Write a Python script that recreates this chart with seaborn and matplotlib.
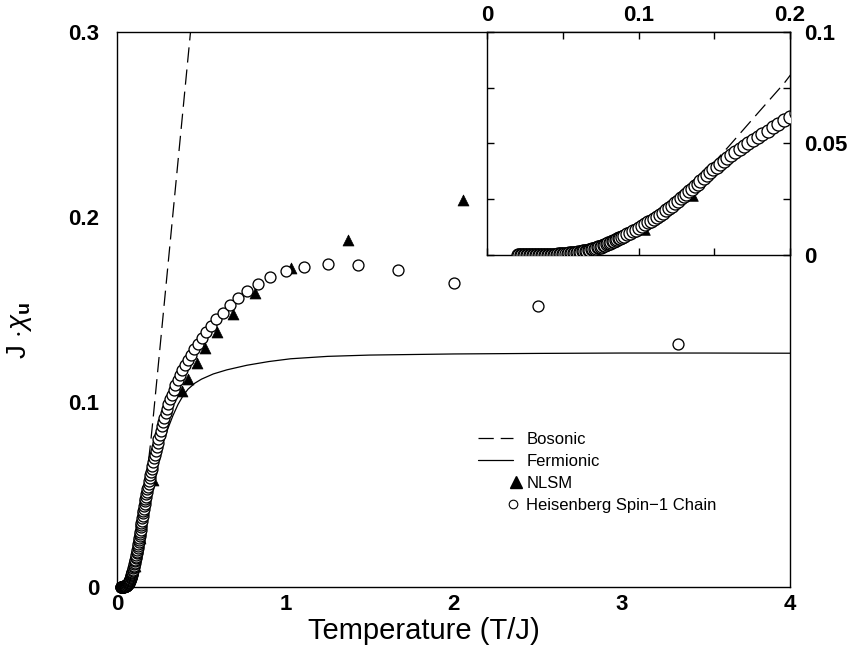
import pandas as pd
import seaborn as sns
import matplotlib.pyplot as plt
from matplotlib.lines import Line2D
from matplotlib.legend_handler import HandlerLine2DCompound
from matplotlib.ticker import MultipleLocator

T_heis = [0.020, 0.021, 0.022, 0.023, 0.024, 0.025, 0.026, 0.027, 0.028, 0.029,
          0.030, 0.031, 0.032, 0.033, 0.034, 0.035, 0.036, 0.037, 0.038, 0.039,
          0.040, 0.041, 0.042, 0.043, 0.044, 0.045, 0.046, 0.047, 0.048, 0.049,
          0.050, 0.051, 0.052, 0.053, 0.054, 0.055, 0.056, 0.057, 0.058, 0.059,
          0.060, 0.061, 0.062, 0.063, 0.064, 0.065, 0.066, 0.067, 0.068, 0.069,
          0.070, 0.071, 0.072, 0.073, 0.074, 0.075, 0.076, 0.077, 0.078, 0.079,
          0.080, 0.081, 0.082, 0.083, 0.084, 0.085, 0.086, 0.087, 0.088, 0.089,
          0.090, 0.092, 0.094, 0.096, 0.098, 0.100, 0.102, 0.104, 0.106, 0.108,
          0.110, 0.112, 0.114, 0.116, 0.118, 0.120, 0.122, 0.124, 0.126, 0.128,
          0.130, 0.1316, 0.1333, 0.1351, 0.1370, 0.1389, 0.1408, 0.1429, 0.1449, 0.1471,
          0.1493, 0.1515, 0.1538, 0.1563, 0.1587, 0.1613, 0.1639, 0.1667, 0.1695, 0.1724,
          0.1754, 0.1786, 0.1818, 0.1852, 0.1887, 0.1923, 0.1961, 0.2000, 0.2041, 0.2083,
          0.2128, 0.2174, 0.2222, 0.2273, 0.2326, 0.2381, 0.2439, 0.2500, 0.2564, 0.2632,
          0.2703, 0.2778, 0.2857, 0.2941, 0.3030, 0.3125, 0.3226, 0.3333, 0.3448, 0.3571,
          0.3704, 0.3846, 0.4000, 0.4167, 0.4348, 0.4545, 0.4762, 0.5000, 0.5263, 0.5556,
          0.5882, 0.6250, 0.6667, 0.7143, 0.7692, 0.8333, 0.9091, 1.0000, 1.1111, 1.2500,
          1.4286, 1.6667, 2.0000, 2.5000, 3.3333]
chi_heis = [0.0, 0.0, 0.0, 0.0, 0.0, 0.0, 0.0, 0.0, 0.0, 0.0,
            0.0, 0.0, 0.0, 0.0, 0.0, 0.0, 0.0, 0.0001, 0.0001, 0.0001,
            0.0001, 0.0001, 0.0001, 0.0002, 0.0002, 0.0002, 0.0002, 0.0003, 0.0003, 0.0003,
            0.0004, 0.0004, 0.0005, 0.0006, 0.0007, 0.0008, 0.0008, 0.0009, 0.0010, 0.0011,
            0.0012, 0.0013, 0.0014, 0.0016, 0.0017, 0.0018, 0.0020, 0.0022, 0.0023, 0.0025,
            0.0027, 0.0029, 0.0031, 0.0034, 0.0036, 0.0038, 0.0041, 0.0043, 0.0046, 0.0049,
            0.0052, 0.0055, 0.0058, 0.0061, 0.0064, 0.0068, 0.0071, 0.0075, 0.0078, 0.0082,
            0.0085, 0.0092, 0.0099, 0.0106, 0.0114, 0.0121, 0.0129, 0.0137, 0.0146, 0.0154,
            0.0163, 0.0172, 0.0181, 0.0190, 0.0200, 0.0210, 0.0220, 0.0231, 0.0242, 0.0253,
            0.0264, 0.0274, 0.0285, 0.0296, 0.0308, 0.0320, 0.0332, 0.0345, 0.0357, 0.0370,
            0.0383, 0.0396, 0.0409, 0.0422, 0.0435, 0.0448, 0.0461, 0.0474, 0.0487, 0.0500,
            0.0513, 0.0527, 0.0541, 0.0556, 0.0571, 0.0587, 0.0603, 0.0620, 0.0637, 0.0655,
            0.0674, 0.0693, 0.0713, 0.0734, 0.0755, 0.0776, 0.0798, 0.0820, 0.0843, 0.0866,
            0.0890, 0.0914, 0.0938, 0.0962, 0.0987, 0.1012, 0.1038, 0.1064, 0.1090, 0.1118,
            0.1145, 0.1172, 0.1198, 0.1226, 0.1254, 0.1283, 0.1312, 0.1343, 0.1375, 0.1409,
            0.1445, 0.1481, 0.1521, 0.1561, 0.1600, 0.1637, 0.1673, 0.1706, 0.1730, 0.1743,
            0.1740, 0.1711, 0.1640, 0.1519, 0.1311]

# NLSM (filled triangles)
T_nlsm = [0.104, 0.136, 0.213, 0.382, 0.421, 0.471, 0.521, 0.590, 0.689, 0.818, 1.031, 1.374, 2.055]
chi_nlsm = [0.0112, 0.0265, 0.0577, 0.1060, 0.1123, 0.1208, 0.1292, 0.1378, 0.1475, 0.1586, 0.1724, 0.1874, 0.2090]

# Bosonic (dashed)
T_bos = [0.020, 0.040, 0.060, 0.080, 0.100, 0.120, 0.139, 0.160, 0.180, 0.196, 0.213, 0.250, 0.300, 0.350, 0.400, 0.450]
chi_bos = [0.0, 0.0001, 0.0012, 0.0050, 0.0118, 0.0208, 0.0333, 0.0490, 0.0645, 0.0768, 0.0919, 0.1265, 0.1735, 0.2205, 0.2675, 0.3145]

# Fermionic (solid)
T_fer = [0.03, 0.06, 0.10, 0.15, 0.20, 0.24, 0.27, 0.30, 0.33, 0.36, 0.39, 0.42, 0.46,
         0.50, 0.57, 0.65, 0.77, 0.90, 1.03, 1.25, 1.50, 2.00, 2.50, 3.00, 3.50, 4.00]
chi_fer = [0.0, 0.0008, 0.0095, 0.030, 0.053, 0.068, 0.0775, 0.0855, 0.0925, 0.0985, 0.1032, 0.1068, 0.1100,
           0.1122, 0.1150, 0.1172, 0.1197, 0.1217, 0.1232, 0.1245, 0.1252, 0.1258, 0.1261, 0.1263, 0.1263, 0.1262]

main_xticks = [0, 1, 2, 3, 4]
main_yticks = [0, 0.1, 0.2, 0.3]
inset_xticks = [0, 0.1, 0.2]
inset_yticks = [0, 0.05, 0.1]

sns.set_style("white")
plt.rcParams['font.family'] = ['Liberation Sans', 'DejaVu Sans']
plt.rcParams['mathtext.fontset'] = 'custom'
plt.rcParams['mathtext.rm'] = 'Liberation Sans'
plt.rcParams['mathtext.it'] = 'Liberation Sans:italic'
plt.rcParams['mathtext.bf'] = 'Liberation Sans:bold'
plt.rcParams['lines.scale_dashes'] = False
# seaborn greys -> plain black like the original figure
for key in ['text.color', 'axes.labelcolor', 'xtick.color', 'ytick.color', 'axes.edgecolor']:
    plt.rcParams[key] = 'black'

DASH = (0, (11, 5))
TICKFONT = dict(fontsize=16, fontweight='bold', color='black')

fig = plt.figure(figsize=(8.5, 6.55), dpi=100)
ax = fig.add_axes([0.1382, 0.1043, 0.7912, 0.8473])
axin = fig.add_axes([0.5733, 0.6107, 0.3561, 0.3409])


def draw(a, circ_s, tri_s, fermi, clip):
    sns.lineplot(x=T_bos, y=chi_bos, ax=a, color='black', lw=0.9, linestyle=DASH,
                 sort=False, estimator=None, errorbar=None, zorder=2)
    if fermi:
        sns.lineplot(x=T_fer, y=chi_fer, ax=a, color='black', lw=0.9,
                     sort=False, estimator=None, errorbar=None, zorder=2)
    sns.scatterplot(x=T_nlsm, y=chi_nlsm, ax=a, marker='^', s=tri_s, color='black',
                    edgecolor='black', linewidth=0.5, zorder=3, legend=False)
    sns.scatterplot(x=T_heis, y=chi_heis, ax=a, marker='o', s=circ_s, color='white',
                    edgecolor='black', linewidth=0.95, zorder=4, legend=False, clip_on=clip)


draw(ax, 62, 62, True, False)
draw(axin, 88, 48, False, True)

# main axes
ax.set_xlim(0, 4)
ax.set_ylim(0, 0.3)
ax.set_xticks(main_xticks, [str(t) for t in main_xticks], **TICKFONT)
ax.set_yticks(main_yticks, ['0', '0.1', '0.2', '0.3'], **TICKFONT)
ax.xaxis.set_minor_locator(MultipleLocator(0.5))
ax.yaxis.set_minor_locator(MultipleLocator(0.05))
ax.tick_params(which='both', direction='in', top=False, right=False, width=1, color='black')
ax.tick_params(which='major', length=7)
ax.tick_params(which='minor', length=4)
ax.tick_params(axis='x', pad=5)
ax.tick_params(axis='y', pad=13)
ax.set_xlabel('Temperature (T/J)', fontsize=21, color='black')
ax.set_ylabel(r'J $\cdot\chi_{\mathbf{u}}$', fontsize=20, color='black')
ax.xaxis.set_label_coords(0.455, -0.055)
ax.yaxis.set_label_coords(-0.124, 0.4625)

# inset axes
axin.set_xlim(0, 0.2)
axin.set_ylim(0, 0.1)
axin.set_xticks(inset_xticks, ['0', '0.1', '0.2'], **TICKFONT)
axin.set_yticks(inset_yticks, ['0', '0.05', '0.1'], **TICKFONT)
axin.xaxis.set_minor_locator(MultipleLocator(0.05))
axin.yaxis.set_minor_locator(MultipleLocator(0.025))
axin.tick_params(which='both', direction='in', top=True, bottom=True, left=True, right=True,
                 labeltop=True, labelbottom=False, labelleft=False, labelright=True,
                 length=5, width=1, color='black')
axin.tick_params(axis='x', pad=4)
axin.tick_params(axis='y', pad=10)
axin.set_xlabel('')
axin.set_ylabel('')

for a in (ax, axin):
    for sp in a.spines.values():
        sp.set_color('black')
        sp.set_linewidth(1.0)


class MarkerAtEnd(HandlerLine2DCompound):
    # put the legend marker at the right end of the handle box
    def __init__(self, shift=0.0, **kw):
        super().__init__(**kw)
        self.shift = shift

    def get_xdata(self, legend, xdescent, ydescent, width, height, fontsize):
        xdata, _ = super().get_xdata(legend, xdescent, ydescent, width, height, fontsize)
        return xdata, [width - xdescent + self.shift]


h_bos = Line2D([], [], color='black', lw=0.9, linestyle=DASH)
h_fer = Line2D([], [], color='black', lw=0.9)
h_nlsm = Line2D([], [], ls='none', marker='^', color='black', ms=8.5)
h_heis = Line2D([], [], ls='none', marker='o', mfc='white', mec='black', ms=6.2, mew=0.8)
leg = ax.legend([h_bos, h_fer, h_nlsm, h_heis],
                ['Bosonic', 'Fermionic', 'NLSM', 'Heisenberg Spin\u22121 Chain'],
                loc='upper left', bbox_to_anchor=(0.536, 0.279), frameon=False, fontsize=12,
                handlelength=2.1, handletextpad=0.8, labelspacing=0.42, borderpad=0,
                borderaxespad=0,
                handler_map={h_nlsm: MarkerAtEnd(shift=2.5), h_heis: MarkerAtEnd(shift=0)})
for txt in leg.get_texts():
    txt.set_color('black')

fig.savefig('out.png', dpi=100)
